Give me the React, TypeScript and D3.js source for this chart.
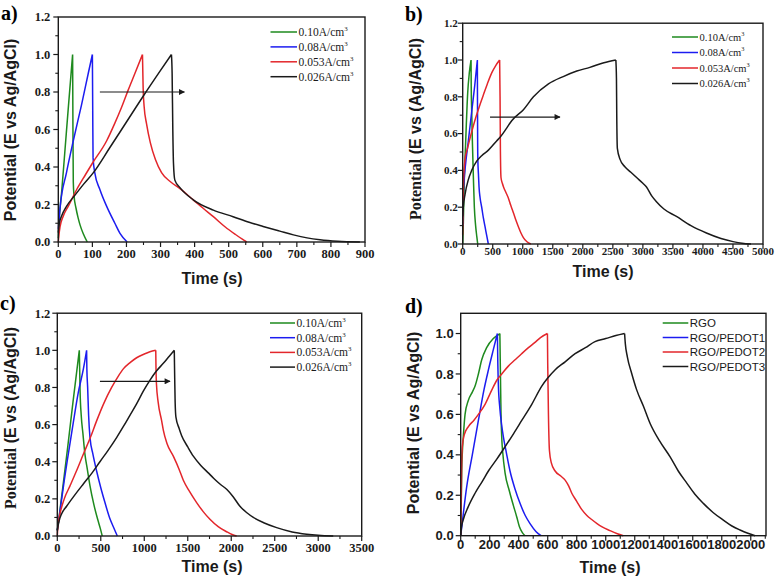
import * as d3 from "d3";

type Pt = [number, number];

// ---- data: time (s), potential (V) ----

// a) four current densities
const a010: Pt[] = [[0,0.02],[2,0.1],[10,0.27],[20,0.5],[30,0.73],[42,1.0],[43,0.6],[44,0.32],[46,0.25],[52,0.18],[58,0.13],[64,0.09],[73,0.045],[85,0]];
const a008: Pt[] = [[0,0.07],[5,0.18],[24,0.37],[44,0.54],[68,0.73],[88,0.9],[100,1.0],[101,0.7],[102,0.45],[107,0.37],[122,0.28],[142,0.19],[166,0.1],[181,0.046],[202,0]];
const a0053: Pt[] = [[0,0],[2,0.04],[5,0.08],[15,0.14],[29,0.19],[54,0.28],[80,0.36],[100,0.42],[142,0.54],[165,0.63],[186,0.72],[205,0.81],[225,0.9],[247,1.0],[249,0.82],[252,0.72],[259,0.63],[270,0.53],[285,0.44],[303,0.37],[330,0.32],[357,0.285],[396,0.225],[425,0.18],[455,0.135],[490,0.08],[520,0.04],[540,0.015],[553,0]];
const a0026: Pt[] = [[0,0.05],[3,0.1],[10,0.14],[24,0.19],[49,0.25],[75,0.31],[103,0.37],[150,0.5],[200,0.64],[250,0.78],[300,0.915],[332,1.0],[334,0.9],[336,0.6],[338,0.42],[342,0.33],[357,0.29],[396,0.225],[455,0.17],[513,0.135],[560,0.105],[601,0.083],[650,0.058],[690,0.038],[730,0.022],[768,0.012],[820,0.004],[885,0]];

// b)
const b010: Pt[] = [[0,0],[5,0.05],[11,0.12],[25,0.33],[50,0.56],[83,0.82],[110,0.93],[139,1.0],[142,0.85],[150,0.72],[161,0.56],[178,0.36],[194,0.2],[215,0.1],[235,0.04],[250,0]];
const b008: Pt[] = [[0,0.1],[5,0.22],[20,0.33],[50,0.44],[94,0.56],[150,0.72],[200,0.86],[244,1.0],[246,0.8],[249,0.55],[252,0.46],[262,0.38],[272,0.31],[290,0.25],[316,0.2],[345,0.14],[372,0.094],[400,0.045],[427,0]];
const b0053: Pt[] = [[0,0.05],[5,0.2],[15,0.35],[39,0.46],[80,0.52],[150,0.61],[220,0.69],[290,0.76],[344,0.81],[410,0.87],[483,0.93],[550,0.97],[615,1.0],[622,0.8],[628,0.5],[638,0.36],[660,0.33],[680,0.31],[720,0.28],[760,0.25],[800,0.21],[844,0.17],[885,0.13],[927,0.094],[970,0.06],[1010,0.035],[1070,0.012],[1135,0]];
const b0026: Pt[] = [[0,0.15],[10,0.2],[39,0.27],[94,0.35],[150,0.4],[233,0.45],[316,0.48],[428,0.51],[565,0.56],[622,0.58],[732,0.63],[816,0.67],[1011,0.73],[1178,0.8],[1428,0.87],[1674,0.91],[1900,0.94],[2117,0.96],[2350,0.985],[2550,1.0],[2560,0.9],[2565,0.7],[2575,0.52],[2620,0.46],[2700,0.42],[2800,0.39],[2900,0.36],[3000,0.33],[3060,0.31],[3150,0.26],[3226,0.23],[3350,0.19],[3559,0.15],[3800,0.1],[4058,0.06],[4300,0.03],[4501,0.013],[4650,0.004],[4800,0]];

// c)
const c010: Pt[] = [[0,0.03],[20,0.1],[60,0.25],[120,0.48],[180,0.72],[253,1.0],[258,0.88],[262,0.78],[275,0.65],[295,0.55],[318,0.44],[345,0.36],[376,0.27],[420,0.17],[464,0.09],[495,0.04],[517,0]];
const c008: Pt[] = [[0,0.03],[30,0.13],[80,0.3],[126,0.44],[180,0.6],[240,0.77],[300,0.9],[337,1.0],[340,0.9],[349,0.8],[360,0.65],[376,0.53],[410,0.44],[452,0.35],[500,0.26],[548,0.18],[600,0.1],[644,0.05],[690,0]];
const c0053: Pt[] = [[0,0],[5,0.04],[15,0.08],[31,0.12],[80,0.2],[146,0.27],[220,0.35],[299,0.44],[380,0.53],[452,0.62],[540,0.72],[625,0.8],[700,0.86],[759,0.9],[840,0.935],[912,0.96],[1000,0.98],[1065,0.992],[1132,1.0],[1135,0.9],[1140,0.82],[1160,0.72],[1200,0.62],[1219,0.57],[1260,0.5],[1334,0.43],[1400,0.36],[1449,0.3],[1520,0.24],[1602,0.18],[1680,0.13],[1755,0.09],[1850,0.05],[1947,0.023],[2010,0.008],[2062,0]];
const c0026: Pt[] = [[0,0.03],[20,0.08],[50,0.12],[107,0.16],[200,0.22],[299,0.28],[400,0.34],[490,0.4],[582,0.46],[682,0.53],[760,0.59],[835,0.65],[910,0.71],[989,0.78],[1066,0.84],[1142,0.89],[1219,0.93],[1290,0.97],[1345,1.0],[1350,0.85],[1355,0.72],[1364,0.64],[1400,0.58],[1430,0.54],[1500,0.48],[1564,0.43],[1650,0.38],[1736,0.34],[1800,0.31],[1870,0.28],[1950,0.25],[2024,0.21],[2100,0.16],[2180,0.125],[2254,0.1],[2380,0.07],[2522,0.045],[2700,0.022],[2867,0.01],[3000,0.004],[3173,0]];

// d) RGO and RGO/PEDOT samples
const dRGO: Pt[] = [[0,0],[3,0.12],[7,0.32],[12,0.42],[18,0.49],[30,0.6],[53,0.67],[80,0.71],[99,0.74],[122,0.8],[145,0.87],[179,0.93],[225,0.975],[250,0.99],[270,1.0],[274,0.8],[278,0.6],[284,0.47],[290,0.41],[306,0.31],[336,0.22],[363,0.15],[386,0.094],[405,0.044],[425,0.015],[444,0]];
const dP1: Pt[] = [[0,0],[10,0.06],[41,0.24],[80,0.4],[122,0.57],[160,0.72],[191,0.82],[225,0.92],[253,1.0],[256,0.85],[260,0.74],[270,0.63],[282,0.55],[294,0.49],[315,0.41],[340,0.32],[375,0.23],[409,0.16],[445,0.1],[478,0.06],[520,0.02],[554,0]];
const dP2: Pt[] = [[0,0],[3,0.15],[6,0.32],[11,0.44],[25,0.5],[53,0.54],[90,0.57],[122,0.6],[168,0.65],[214,0.72],[250,0.77],[283,0.8],[330,0.84],[375,0.87],[420,0.9],[467,0.93],[510,0.955],[550,0.98],[598,1.0],[600,0.85],[605,0.6],[612,0.42],[625,0.36],[651,0.32],[690,0.295],[720,0.275],[745,0.245],[766,0.21],[800,0.17],[834,0.13],[870,0.1],[903,0.08],[940,0.06],[972,0.045],[1030,0.025],[1080,0.01],[1121,0]];
const dP3: Pt[] = [[0,0],[5,0.04],[18,0.08],[50,0.14],[99,0.21],[150,0.27],[191,0.32],[250,0.38],[306,0.44],[365,0.505],[421,0.57],[490,0.65],[559,0.74],[600,0.78],[650,0.82],[720,0.86],[789,0.9],[860,0.93],[926,0.96],[1000,0.975],[1070,0.99],[1130,1.0],[1135,0.95],[1149,0.885],[1180,0.8],[1214,0.72],[1260,0.64],[1306,0.555],[1370,0.47],[1444,0.39],[1500,0.32],[1559,0.26],[1615,0.205],[1673,0.16],[1740,0.115],[1811,0.077],[1870,0.048],[1926,0.028],[1980,0.012],[2030,0]];

const currentLabels = ["0.10A/cm", "0.08A/cm", "0.053A/cm", "0.026A/cm"];
const sampleLabels = ["RGO", "RGO/PEDOT1", "RGO/PEDOT2", "RGO/PEDOT3"];
const colors = ["#1e8a1e", "#1c1cf0", "#e3262b", "#1a1a1a"];

// arrows (time, potential) for a, b, c
const arrowA: Pt[] = [[122, 0.8], [370, 0.8]];
const arrowB: Pt[] = [[455, 0.69], [1619, 0.69]];
const arrowC: Pt[] = [[490, 0.833], [1296, 0.833]];

const SERIF = "'Liberation Serif', 'Times New Roman', serif";
const SANS = "'Liberation Sans', Arial, sans-serif";

const panels = [
  {
    key: "a", tag: "a)", tagX: 1, tagY: 20,
    l: 58.3, r: 365, t: 17, b: 242,
    xMax: 900, xStep: 100, xMinor: 50, yMax: 1.2,
    tickFont: SERIF, tickSize: 12.5, xLabDy: 16, yLabGap: 8,
    series: [a010, a008, a0053, a0026], labels: currentLabels, sup: true,
    leg: { x1: 270.5, x2: 297, y0: 32, dy: 14.9, font: SERIF, size: 11.5 },
    arrow: arrowA,
    yTitle: ["", "Potential (E vs Ag/AgCl)"], yTx: 10, yTy: 130,
    xTx: 212, xTy: 284,
  },
  {
    key: "b", tag: "b)", tagX: 405, tagY: 21,
    l: 462.7, r: 763, t: 23.2, b: 244,
    xMax: 5000, xStep: 500, xMinor: 250, yMax: 1.2,
    tickFont: SERIF, tickSize: 11, xLabDy: 11, yLabGap: 5,
    series: [b010, b008, b0053, b0026], labels: currentLabels, sup: true,
    leg: { x1: 672, x2: 698, y0: 37, dy: 15.5, font: SERIF, size: 10.5 },
    arrow: arrowB,
    yTitle: ["Potential", " (E vs (Ag/AgCl)"], yTx: 415, yTy: 129,
    xTx: 603, xTy: 277,
  },
  {
    key: "c", tag: "c)", tagX: 0, tagY: 310,
    l: 57.3, r: 361.7, t: 313.2, b: 536,
    xMax: 3500, xStep: 500, xMinor: 250, yMax: 1.2,
    tickFont: SERIF, tickSize: 12.5, xLabDy: 16, yLabGap: 7,
    series: [c010, c008, c0053, c0026], labels: currentLabels, sup: true,
    leg: { x1: 270, x2: 295, y0: 323, dy: 14.7, font: SERIF, size: 11.5 },
    arrow: arrowC,
    yTitle: ["Potential", " (E vs (Ag/AgCl)"], yTx: 10, yTy: 418,
    xTx: 212, xTy: 572,
  },
  {
    key: "d", tag: "d)", tagX: 405, tagY: 313,
    l: 460.7, r: 766, t: 313.3, b: 535.7,
    xMax: 2105, xStep: 200, xMinor: 100, yMax: 1.1,
    tickFont: SANS, tickSize: 13, xLabDy: 13, yLabGap: 7,
    series: [dRGO, dP1, dP2, dP3], labels: sampleLabels, sup: false,
    leg: { x1: 662.7, x2: 688.3, y0: 323, dy: 14.5, font: SANS, size: 11.5 },
    arrow: null as Pt[] | null,
    yTitle: ["", "Potential (E vs Ag/AgCl)"], yTx: 413, yTy: 423,
    xTx: 610, xTy: 573,
  },
];

function seriesPath(pts: Pt[], line: d3.Line<Pt>) {
  // split at the peak so the charge/discharge corner stays sharp
  const i = d3.maxIndex(pts, (d) => d[1]);
  return (line(pts.slice(0, i + 1)) || "") + (line(pts.slice(i)) || "");
}

function Panel({ p }: { p: (typeof panels)[number] }) {
  const x = d3.scaleLinear().domain([0, p.xMax]).range([p.l, p.r]);
  const y = d3.scaleLinear().domain([0, p.yMax]).range([p.b, p.t]);
  const line = d3.line<Pt>().x((d) => x(d[0])).y((d) => y(d[1])).curve(d3.curveMonotoneX);

  const xMajor = d3.range(0, p.xMax + 1e-6, p.xStep);
  const xMinor = d3.range(p.xMinor, p.xMax, p.xStep);
  const yMajor = d3.range(0, p.yMax + 1e-6, 0.2).filter((v) => v <= p.yMax + 1e-6);
  const yMinor = d3.range(0.1, p.yMax, 0.2);
  const fmt = d3.format(".1f");
  const ink = "#1a1a1a";

  return (
    <g>
      {p.series.map((s, i) => (
        <path key={i} d={seriesPath(s, line)} fill="none" stroke={colors[i]} strokeWidth={1.5} />
      ))}

      {p.arrow && (
        <line x1={x(p.arrow[0][0])} y1={y(p.arrow[0][1])} x2={x(p.arrow[1][0])} y2={y(p.arrow[1][1])}
          stroke={ink} strokeWidth={1.2} markerEnd="url(#arrowhead)" />
      )}

      <rect x={p.l} y={p.t} width={p.r - p.l} height={p.b - p.t} fill="none" stroke={ink} strokeWidth={1.4} />

      {xMajor.map((v) => (
        <g key={"xm" + v}>
          <line x1={x(v)} x2={x(v)} y1={p.b} y2={p.b + 5} stroke={ink} strokeWidth={1.2} />
          <text x={x(v)} y={p.b + p.xLabDy} textAnchor="middle" fontFamily={p.tickFont} fontWeight="bold" fontSize={p.tickSize} fill={ink}>{v}</text>
        </g>
      ))}
      {xMinor.map((v) => (
        <line key={"xn" + v} x1={x(v)} x2={x(v)} y1={p.b} y2={p.b + 3} stroke={ink} strokeWidth={1.1} />
      ))}
      {yMajor.map((v) => (
        <g key={"ym" + v}>
          <line x1={p.l - 5} x2={p.l} y1={y(v)} y2={y(v)} stroke={ink} strokeWidth={1.2} />
          <text x={p.l - p.yLabGap} y={y(v)} dy="0.35em" textAnchor="end" fontFamily={p.tickFont} fontWeight="bold" fontSize={p.tickSize} fill={ink}>{fmt(v)}</text>
        </g>
      ))}
      {yMinor.map((v) => (
        <line key={"yn" + v} x1={p.l - 3} x2={p.l} y1={y(v)} y2={y(v)} stroke={ink} strokeWidth={1.1} />
      ))}

      {p.labels.map((lab, i) => {
        const ly = p.leg.y0 + i * p.leg.dy;
        return (
          <g key={lab}>
            <line x1={p.leg.x1} x2={p.leg.x2} y1={ly} y2={ly} stroke={colors[i]} strokeWidth={1.5} />
            <text x={p.leg.x2 + 1.5} y={ly} dy="0.35em" fontFamily={p.leg.font} fontSize={p.leg.size} fill={ink}>
              {lab}
              {p.sup && <tspan dy="-5" fontSize={p.leg.size * 0.6}>3</tspan>}
            </text>
          </g>
        );
      })}

      <text x={p.tagX} y={p.tagY} fontFamily={SERIF} fontWeight="bold" fontSize={20} fill="#000">{p.tag}</text>

      <text x={p.xTx} y={p.xTy} textAnchor="middle" fontFamily={SANS} fontWeight="bold" fontSize={16} fill={ink}>Time (s)</text>

      <text transform={`translate(${p.yTx},${p.yTy}) rotate(-90)`} textAnchor="middle" dy="0.35em"
        fontFamily={SANS} fontWeight="bold" fontSize={16} fill={ink}>
        {p.yTitle[0] && <tspan fontFamily={SERIF}>{p.yTitle[0]}</tspan>}
        {p.yTitle[1]}
      </text>
    </g>
  );
}

export default function App() {
  return (
    <svg width={778} height={579} viewBox="0 0 778 579"
      style={{ position: "absolute", left: 0, top: 0, background: "#fff" }}>
      <defs>
        <marker id="arrowhead" viewBox="0 0 10 10" refX="9" refY="5" markerWidth="8" markerHeight="6"
          markerUnits="userSpaceOnUse" orient="auto">
          <path d="M0,0 L10,5 L0,10 Z" fill="#1a1a1a" />
        </marker>
      </defs>
      <rect width={778} height={579} fill="#fff" />
      {panels.map((p) => (
        <Panel key={p.key} p={p} />
      ))}
    </svg>
  );
}
